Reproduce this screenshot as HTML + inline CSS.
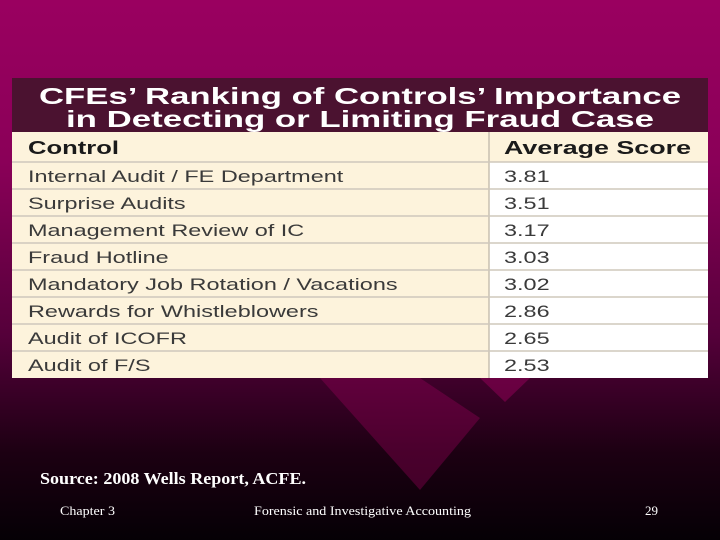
<!DOCTYPE html>
<html><head><meta charset="utf-8"><style>
html,body{margin:0;padding:0}
body{width:720px;height:540px;overflow:hidden;position:relative;background:linear-gradient(180deg,#9a0060 0%,#8a0058 30%,#55003a 62%,#1c0012 84%,#050005 100%);font-family:"Liberation Sans",sans-serif}
svg{position:absolute;left:0;top:0}
</style></head><body>
<svg width="720" height="540">
  <polygon points="320,378 420,490 480,418 420,378" fill="#a0005f" opacity="0.35"/>
  <polygon points="480,378 505,402 530,378" fill="#a0005f" opacity="0.45"/>
  <g>
    <rect x="12" y="78" width="696" height="300" fill="#fdf3dc"/>
    <rect x="489" y="162" width="219" height="216" fill="#ffffff"/>
    <rect x="12" y="78" width="696" height="54" fill="#4b1230"/>
    <text x="360" y="104" text-anchor="middle" font-size="23" font-weight="bold" fill="#fff" textLength="642" lengthAdjust="spacingAndGlyphs">CFEs’ Ranking of Controls’ Importance</text>
    <text x="360" y="127" text-anchor="middle" font-size="23" font-weight="bold" fill="#fff" textLength="588" lengthAdjust="spacingAndGlyphs">in Detecting or Limiting Fraud Case</text>
    <line x1="489" y1="132" x2="489" y2="378" stroke="#c8c0b0" stroke-width="1.5"/>
    <text x="28" y="154" font-size="18" font-weight="bold" fill="#1a1a1a" textLength="91" lengthAdjust="spacingAndGlyphs">Control</text>
    <text x="504" y="154" font-size="18" font-weight="bold" fill="#1a1a1a" textLength="187" lengthAdjust="spacingAndGlyphs">Average Score</text>
    <g id="lines"></g>
    <g id="leftcol" transform="translate(28,0) scale(1.38,1) translate(-28,0)"></g>
    <g id="rightcol" transform="translate(504,0) scale(1.38,1) translate(-504,0)"></g>
  </g>
  <text x="40" y="484" font-family="Liberation Serif" font-size="17" font-weight="bold" fill="#fff" textLength="266" lengthAdjust="spacingAndGlyphs">Source: 2008 Wells Report, ACFE.</text>
  <text x="60" y="515" font-family="Liberation Serif" font-size="13" fill="#fff" textLength="55" lengthAdjust="spacingAndGlyphs">Chapter 3</text>
  <text x="254" y="515" font-family="Liberation Serif" font-size="13" fill="#fff" textLength="217" lengthAdjust="spacingAndGlyphs">Forensic and Investigative Accounting</text>
  <text x="645" y="515" font-family="Liberation Serif" font-size="13" fill="#fff">29</text>
</svg>
<script>
const controls=["Internal Audit / FE Department","Surprise Audits","Management Review of IC","Fraud Hotline","Mandatory Job Rotation / Vacations","Rewards for Whistleblowers","Audit of ICOFR","Audit of F/S"];
const scores=["3.81","3.51","3.17","3.03","3.02","2.86","2.65","2.53"];
const ns="http://www.w3.org/2000/svg";
const gl=document.getElementById('lines');
const gL=document.getElementById('leftcol');
const gR=document.getElementById('rightcol');
const top0=162,rh=27;
controls.forEach((c,i)=>{
  const y=top0+i*rh;
  const ln=document.createElementNS(ns,'line');
  ln.setAttribute('x1',12);ln.setAttribute('x2',708);ln.setAttribute('y1',y);ln.setAttribute('y2',y);
  ln.setAttribute('stroke','#cfc8bb');ln.setAttribute('stroke-width','1.5');
  
  
  gl.appendChild(ln);
  const t=document.createElementNS(ns,'text');
  t.setAttribute('x',28);t.setAttribute('y',y+20);t.setAttribute('font-size','17');t.setAttribute('fill','#3a3a3a');
  t.textContent=c;
  
  
  gL.appendChild(t);
  const s=document.createElementNS(ns,'text');
  s.setAttribute('x',504);s.setAttribute('y',y+20);s.setAttribute('font-size','17');s.setAttribute('fill','#3a3a3a');
  s.textContent=scores[i];
  
  
  gR.appendChild(s);
});
</script>
</body></html>
